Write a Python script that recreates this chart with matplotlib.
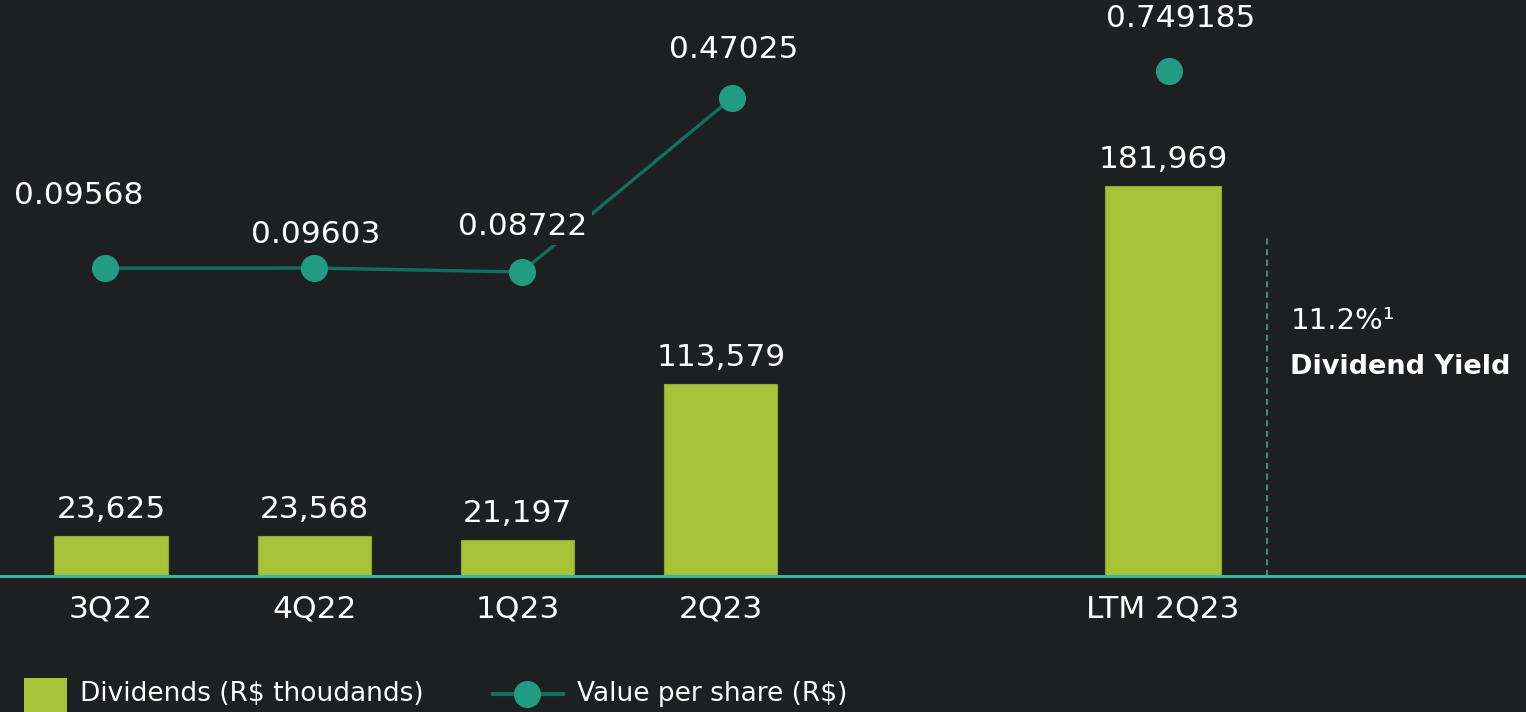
import matplotlib.pyplot as plt
from matplotlib.lines import Line2D
from matplotlib.patches import Rectangle

# data
quarters = ['3Q22', '4Q22', '1Q23', '2Q23']
dividends = [23625, 23568, 21197, 113579]
per_share = [0.09568, 0.09603, 0.08722, 0.47025]
ltm_label = 'LTM 2Q23'
ltm_dividends = 181969
ltm_per_share = 0.749185
dividend_yield = '11.2%'

# styling
bg = '#1e1f21'
bar_color = '#a8c23a'
line_color = '#0f7060'
marker_color = '#229b83'
axis_color = '#3ab59b'
txt = 'white'
fs = 22.5
plt.rcParams['font.family'] = ['DejaVu Sans']

# small horizontal shift of the line markers and label offsets (points)
line_shift = [-0.03, 0.0, 0.02, 0.054]
ps_offsets = [(-19, 52), (1, 24), (1, 33), (1, 35)]

W, H = 1526, 712
fig = plt.figure(figsize=(W / 100, H / 100), dpi=100, facecolor=bg)
bottom = 1 - 576 / H
split = 900 / W

ax = fig.add_axes([0, bottom, split, 1 - bottom])
ax2 = fig.add_axes([split, bottom, 1 - split, 1 - bottom])

px = 203.3  # pixels per category step
for a in (ax, ax2):
    a.set_facecolor(bg)
    for s in ('top', 'left', 'right'):
        a.spines[s].set_visible(False)
    a.spines['bottom'].set_color(axis_color)
    a.spines['bottom'].set_linewidth(2.2)
    a.tick_params(axis='x', length=0, pad=13, labelsize=fs, labelcolor=txt)
    a.set_yticks([])

# ---- quarterly panel
x = list(range(len(quarters)))
ax.bar(x, dividends, width=0.556, color=bar_color, edgecolor='#8fa733', linewidth=0.8, zorder=2)
ax.set_xlim(-111 / px, (900 - 111) / px)
ax.set_ylim(0, 576 * 591.6)
ax.set_xticks(x)
ax.set_xticklabels(quarters)
for xi, v in zip(x, dividends):
    ax.annotate(f'{v:,}', (xi, v), xytext=(0, 19), textcoords='offset points',
                ha='center', va='center', color=txt, fontsize=fs)

axl = ax.twinx()
axl.set_ylim(-264.4 / 454, 311.6 / 454)
axl.axis('off')
lx = [xi + s for xi, s in zip(x, line_shift)]
axl.plot(lx, per_share, color=line_color, linewidth=2.4, marker='o', markersize=18.5,
         markerfacecolor=marker_color, markeredgecolor=marker_color, zorder=3)
for xi, v, off in zip(lx, per_share, ps_offsets):
    axl.annotate(f'{v}', (xi, v), xytext=off, textcoords='offset points',
                 ha='center', va='center', color=txt, fontsize=fs, zorder=5,
                 bbox=dict(boxstyle='square,pad=0.15', facecolor=bg, edgecolor='none'))

# ---- LTM panel
ax2.bar([0], [ltm_dividends], width=0.575, color=bar_color, edgecolor='#8fa733', linewidth=0.8, zorder=2)
ax2.set_xlim((900 - 1163) / px, (W - 1163) / px)
ax2.set_ylim(0, 576 * 466.6)
ax2.set_xticks([0])
ax2.set_xticklabels([ltm_label])
ax2.annotate(f'{ltm_dividends:,}', (0, ltm_dividends), xytext=(0, 19), textcoords='offset points',
             ha='center', va='center', color=txt, fontsize=fs)
ax2.axvline((1267 - 1163) / px, ymax=(576 - 237) / 576, color=axis_color, linewidth=1.1,
            linestyle=(0, (4, 3)))
ax2.text((1291 - 1163) / px, 181969 * 0.655, dividend_yield + '\u00b9', color=txt, fontsize=21,
         ha='left', va='center')
ax2.text((1290 - 1163) / px, 181969 * 0.535, 'Dividend Yield', color=txt, fontsize=19.5,
         fontweight='bold', ha='left', va='center')

axr = ax2.twinx()
axr.set_ylim(0, ltm_per_share * 576 / 505)
axr.axis('off')
axr.plot([0.03], [ltm_per_share], linestyle='none', marker='o', markersize=18.5,
         markerfacecolor=marker_color, markeredgecolor=marker_color)
axr.annotate(f'{ltm_per_share}', (0.03, ltm_per_share), xytext=(8, 38), textcoords='offset points',
             ha='center', va='center', color=txt, fontsize=fs)

# legend, drawn by hand in figure pixels
def fx(p):
    return p / W

def fy(p):
    return 1 - p / H

ly = 694
fig.patches.append(Rectangle((fx(24), fy(716)), fx(67) - fx(24), fy(678) - fy(716),
                             transform=fig.transFigure, facecolor=bar_color, edgecolor='none'))
fig.text(fx(80), fy(ly), 'Dividends (R$ thoudands)', color=txt, fontsize=19, ha='left', va='center')
fig.add_artist(Line2D([fx(493), fx(563)], [fy(ly), fy(ly)], transform=fig.transFigure,
                      color=line_color, linewidth=3))
fig.add_artist(Line2D([fx(527)], [fy(ly)], transform=fig.transFigure, linestyle='none',
                      marker='o', markersize=18.5, markerfacecolor=marker_color,
                      markeredgecolor=marker_color))
fig.text(fx(577), fy(ly), 'Value per share (R$)', color=txt, fontsize=19, ha='left', va='center')

fig.savefig('out.png', dpi=100, facecolor=bg)
